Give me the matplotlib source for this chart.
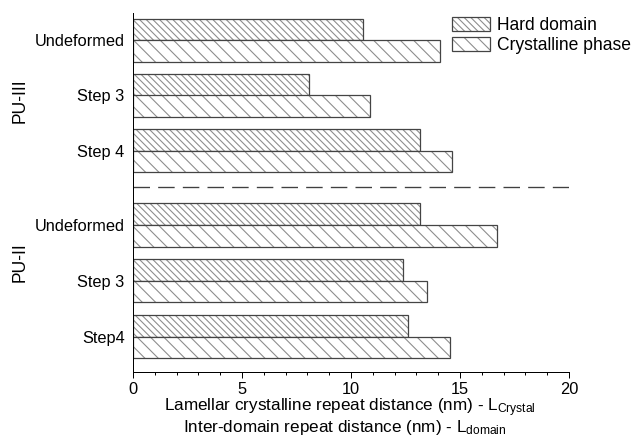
import matplotlib
matplotlib.use("Agg")
import matplotlib.pyplot as plt
from matplotlib.patches import Patch
from matplotlib.legend_handler import HandlerTuple
from matplotlib.transforms import blended_transform_factory

plt.rcParams['font.family'] = ['Liberation Sans', 'DejaVu Sans']
plt.rcParams['mathtext.fontset'] = 'custom'
plt.rcParams['mathtext.rm'] = 'Liberation Sans'
plt.rcParams['mathtext.it'] = 'Liberation Sans:italic'
plt.rcParams['hatch.linewidth'] = 0.65
plt.rcParams['lines.scale_dashes'] = False

# Samples, listed top to bottom
categories = ['Undeformed', 'Step 3', 'Step 4', 'Undeformed', 'Step 3', 'Step4']
groups = ['PU-III', 'PU-II']
hard_domain = [10.54, 8.08, 13.15, 13.18, 12.37, 12.62]
crystalline_phase = [14.07, 10.87, 14.65, 16.72, 13.47, 14.52]
series_labels = ['Hard domain', 'Crystalline phase']

# Layout of the rows (PU-III block above, PU-II block below the separator)
ypos = [6.0, 5.0, 4.0, 2.66, 1.65, 0.64]
sep_y = 3.35
group_y = [4.90, 1.98]
bar_h = 0.392

DPI = 120
fig = plt.figure(figsize=(636 / DPI, 438 / DPI), dpi=DPI)
ax = fig.add_axes([133 / 636, 1 - 372 / 438, 436 / 636, (372 - 13) / 438])

hatch_col = '#8c8c8c'
edge_col = '#444444'
hatch_hard = '\\' * 6
hatch_cryst = '\\' * 3

y_hard = [y + bar_h / 2 for y in ypos]
y_cryst = [y - bar_h / 2 for y in ypos]

for yv, vals, hp in [(y_hard, hard_domain, hatch_hard), (y_cryst, crystalline_phase, hatch_cryst)]:
    ax.barh(yv, vals, height=bar_h, color='white', edgecolor=hatch_col,
            hatch=hp, linewidth=0)
    ax.barh(yv, vals, height=bar_h, color='none', edgecolor=edge_col,
            linewidth=0.75)

# separator between the two materials
ax.plot([0, 20], [sep_y, sep_y], color='#404040', lw=0.8, dashes=(9.9, 4.9))

ax.set_xlim(0, 20)
ax.set_ylim(0, (372 - 13) / 55.3)
ax.set_xticks([0, 5, 10, 15, 20])
ax.set_xticks(range(0, 21), minor=True)
ax.set_yticks(ypos)
ax.set_yticklabels(categories)
ax.tick_params(axis='y', length=0, pad=5, labelsize=9.8)
ax.tick_params(axis='x', which='major', direction='out', length=3.6, width=0.6,
               pad=2.5, labelsize=9.8)
ax.tick_params(axis='x', which='minor', direction='out', length=2.0, width=0.6)
for s in ['top', 'right']:
    ax.spines[s].set_visible(False)
for s in ['left', 'bottom']:
    ax.spines[s].set_linewidth(0.6)
    ax.spines[s].set_color('black')

# group labels on the far left
tr = blended_transform_factory(fig.transFigure, ax.transData)
for g, gy in zip(groups, group_y):
    ax.text(20 / 636, gy, g, transform=tr, rotation=90, ha='center', va='center',
            fontsize=10.5)

# two-line x label with subscripts
fig.text(350 / 636, 1 - 411 / 438,
         r'Lamellar crystalline repeat distance (nm) - $\mathregular{L_{Crystal}}$',
         ha='center', va='baseline', fontsize=10.3)
fig.text(345 / 636, 1 - 432 / 438,
         r'Inter-domain repeat distance (nm) - $\mathregular{L_{domain}}$',
         ha='center', va='baseline', fontsize=10.3)

# legend
handles = []
for hp in [hatch_hard, hatch_cryst]:
    handles.append((Patch(facecolor='white', edgecolor=hatch_col, hatch=hp, linewidth=0),
                    Patch(facecolor='none', edgecolor=edge_col, linewidth=0.75)))
ax.legend(handles, series_labels, handler_map={tuple: HandlerTuple(ndivide=1)},
          loc='upper left', bbox_to_anchor=(452 / 636, 1 - 17 / 438),
          bbox_transform=fig.transFigure, frameon=False, borderpad=0,
          handlelength=2.17, handleheight=0.89, handletextpad=0.4,
          labelspacing=0.15, fontsize=10.5, borderaxespad=0)

fig.savefig('out.png', dpi=DPI)
